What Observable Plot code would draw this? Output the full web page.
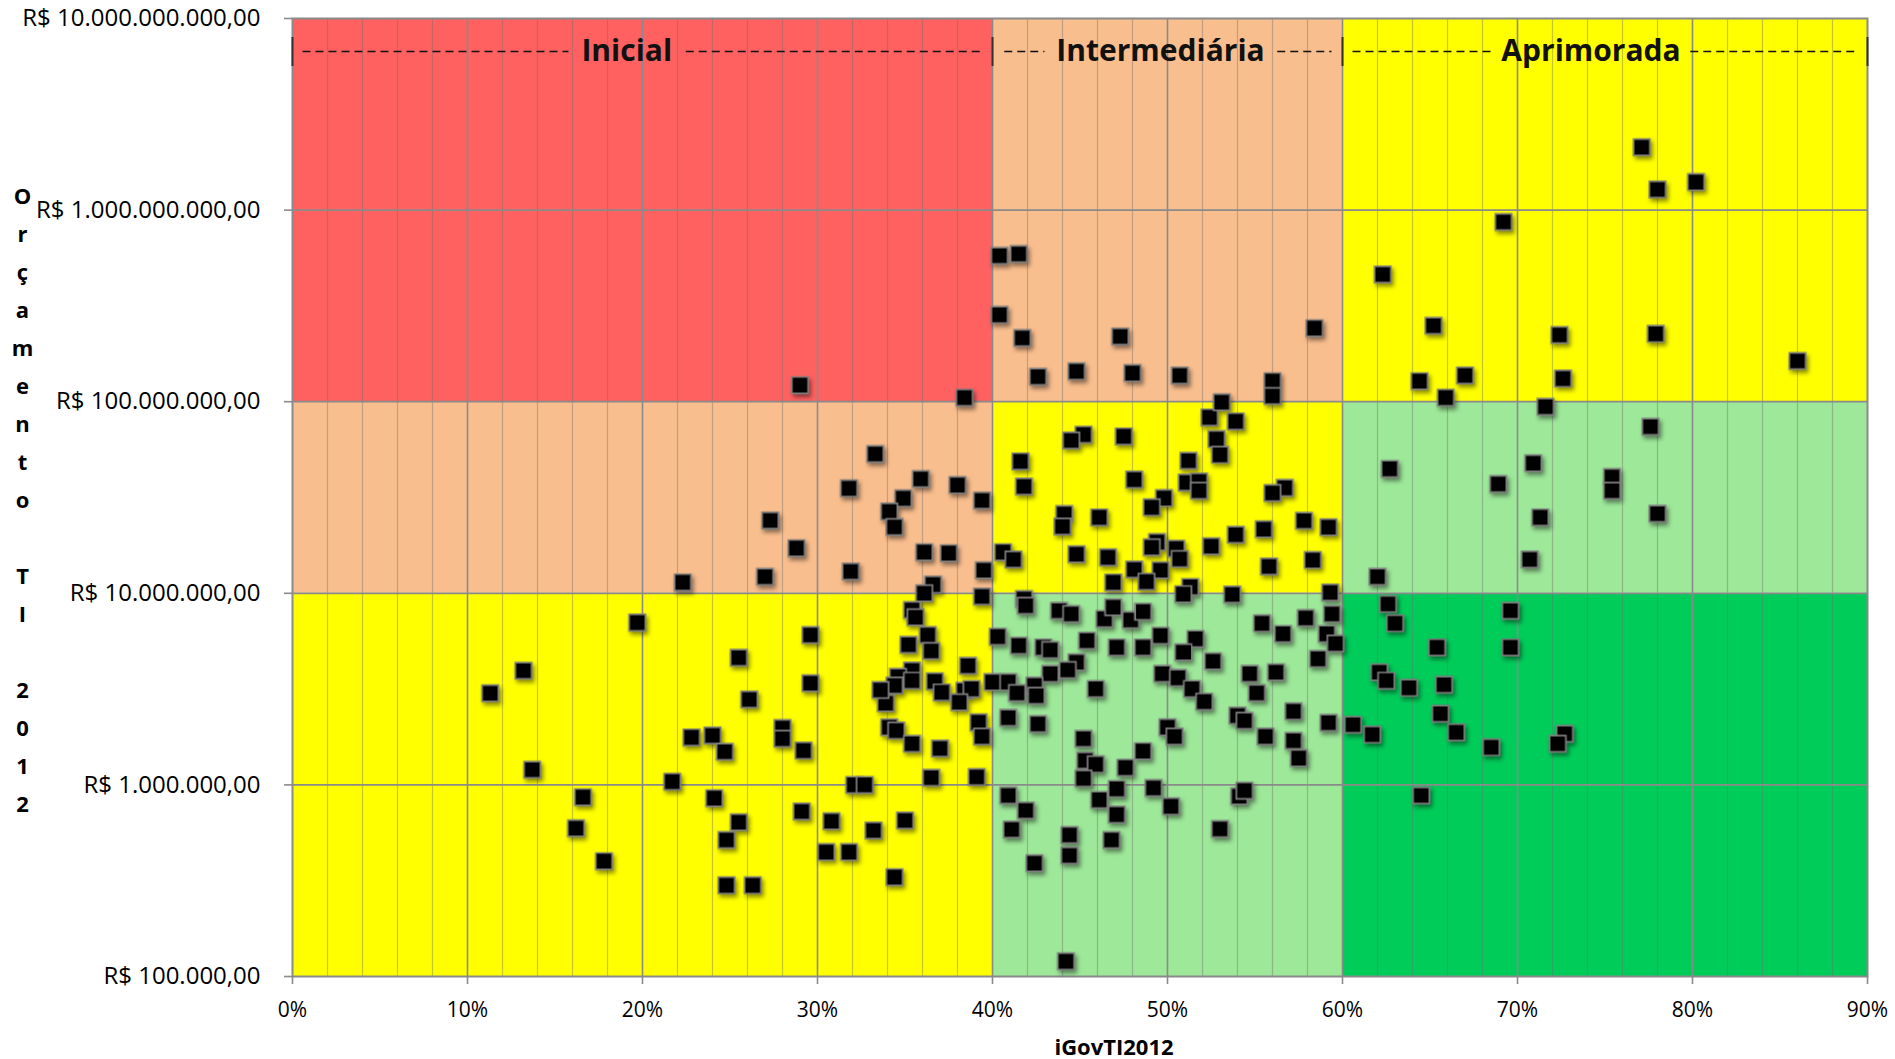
<!DOCTYPE html>
<html><head><meta charset="utf-8">
<script src="https://cdn.jsdelivr.net/npm/d3@7"></script>
<script src="https://cdn.jsdelivr.net/npm/@observablehq/plot@0.6"></script>
<style>
html,body{margin:0;padding:0;background:#fff;}
#chart svg{display:block;}
</style></head><body><div id="chart"></div>
<script>
// ---- DATA: [iGovTI2012 (%), Orçamento TI 2012 (R$)] ----
const faixaAcima100mi = [
 [77.1,2.13e9],[78.0,1.28e9],[80.2,1.40e9],[69.2,8.67e8],[62.3,4.61e8],[65.2,2.49e8],[72.4,2.23e8],
 [77.9,2.26e8],[86.0,1.63e8],[64.4,1.28e8],[67.0,1.37e8],[72.6,1.32e8],[65.9,1.05e8],[40.4,5.78e8],
 [41.5,5.90e8],[40.4,2.84e8],[41.7,2.15e8],[47.3,2.19e8],[58.4,2.42e8],[42.6,1.35e8],[44.8,1.44e8],
 [48.0,1.41e8],[50.7,1.37e8],[56.0,1.28e8],[56.0,1.07e8],[29.0,1.22e8],[38.4,1.05e8]
];
const faixa10a100mi = [
 [71.6,9.41e7],
 [33.3,5.33e7],[35.9,3.95e7],[38.0,3.67e7],[31.8,3.53e7],[34.9,3.13e7],[39.4,3.05e7],[34.1,2.67e7],
 [34.4,2.22e7],[27.3,2.40e7],[28.8,1.72e7],[36.1,1.64e7],[37.5,1.62e7],[31.9,1.30e7],[27.0,1.22e7],
 [22.3,1.14e7],[39.5,1.32e7],[36.6,1.11e7],[36.1,1.00e7],
 [52.4,8.28e7],[53.9,7.89e7],[52.8,6.38e7],[53.0,5.28e7],[51.2,4.92e7],[51.1,3.79e7],[51.8,3.83e7],
 [51.8,3.43e7],[56.7,3.55e7],[56.0,3.34e7],[45.2,6.73e7],[44.5,6.27e7],[47.5,6.59e7],[41.6,4.88e7],
 [41.8,3.61e7],[48.1,3.92e7],[49.8,3.14e7],[49.1,2.81e7],[44.1,2.59e7],[44.0,2.23e7],[46.1,2.49e7],
 [57.8,2.39e7],[59.2,2.21e7],[55.5,2.16e7],[53.9,2.02e7],[52.5,1.76e7],[49.4,1.85e7],[49.1,1.74e7],
 [50.5,1.71e7],[50.7,1.51e7],[44.8,1.60e7],[46.6,1.54e7],[40.6,1.64e7],[41.2,1.50e7],[48.1,1.33e7],
 [49.6,1.32e7],[48.8,1.15e7],[46.9,1.14e7],[55.8,1.38e7],[58.3,1.49e7],[51.3,1.08e7],[59.3,1.01e7],
 [53.1,9.93e7],
 [77.6,7.40e7],[62.7,4.46e7],[70.9,4.77e7],[68.9,3.72e7],[75.4,4.04e7],[75.4,3.43e7],[71.3,2.49e7],
 [78.0,2.60e7],[70.7,1.50e7],[62.0,1.22e7]
];
const faixa1a10mi = [
 [50.9,9.90e6],[53.7,9.85e6],[39.4,9.63e6],
 [35.4,8.18e6],[35.6,7.50e6],[36.3,6.06e6],[35.2,5.39e6],[36.5,5.00e6],[19.7,7.03e6],[29.6,6.06e6],
 [25.5,4.61e6],[13.2,3.94e6],[11.3,3.01e6],[29.6,3.39e6],[26.1,2.79e6],[38.6,4.19e6],[35.4,3.95e6],
 [34.6,3.67e6],[34.4,3.30e6],[33.9,2.67e6],[35.4,3.50e6],[36.7,3.47e6],[37.1,3.04e6],[38.4,3.10e6],
 [38.8,3.17e6],[38.1,2.70e6],[40.0,3.44e6],[33.6,3.13e6],[39.2,2.12e6],[39.4,1.79e6],[34.1,2.00e6],
 [34.5,1.92e6],[35.4,1.64e6],[37.0,1.55e6],[28.0,1.98e6],[28.0,1.74e6],[22.8,1.77e6],[24.0,1.81e6],
 [24.7,1.49e6],[29.2,1.51e6],[13.7,1.20e6],[21.7,1.04e6],[32.1,1.00e6],[32.7,1.00e6],[36.5,1.09e6],
 [39.1,1.10e6],
 [41.8,9.33e6],[41.9,8.61e6],[43.8,8.11e6],[44.5,7.80e6],[46.4,7.35e6],[46.9,8.45e6],[47.9,7.26e6],
 [48.6,8.02e6],[55.4,6.97e6],[56.6,6.14e6],[57.9,7.43e6],[59.4,7.80e6],[59.1,6.14e6],[59.6,5.47e6],
 [40.3,5.94e6],[41.5,5.33e6],[42.9,5.22e6],[43.3,5.06e6],[45.4,5.66e6],[47.1,5.22e6],[48.6,5.22e6],
 [49.6,6.01e6],[51.6,5.78e6],[50.9,4.92e6],[52.6,4.42e6],[54.7,3.80e6],[56.2,3.87e6],[58.6,4.55e6],
 [55.1,3.02e6],[57.2,2.42e6],[59.2,2.11e6],[54.0,2.30e6],[54.4,2.16e6],[55.6,1.79e6],[57.2,1.70e6],
 [57.5,1.38e6],[50.0,2.00e6],[50.4,1.79e6],[49.7,3.80e6],[50.6,3.62e6],[51.4,3.17e6],[52.1,2.72e6],
 [44.8,4.37e6],[44.3,3.98e6],[43.3,3.80e6],[40.9,3.44e6],[41.4,3.02e6],[42.4,3.30e6],[42.5,2.92e6],
 [45.9,3.17e6],[40.9,2.24e6],[42.6,2.08e6],[45.2,1.74e6],[48.6,1.50e6],[47.6,1.23e6],[45.3,1.34e6],
 [45.9,1.28e6],[45.2,1.08e6],
 [62.6,8.80e6],[63.0,6.97e6],[69.6,8.11e6],[69.6,5.22e6],[65.4,5.22e6],[62.1,3.87e6],[62.5,3.50e6],
 [63.8,3.21e6],[65.8,3.33e6],[60.6,2.06e6],[61.7,1.83e6],[65.6,2.35e6],[66.5,1.88e6],[68.5,1.57e6],
 [72.7,1.85e6],[72.3,1.64e6]
];
const faixaAbaixo1mi = [
 [16.6,8.63e5],[24.1,8.53e5],[16.2,5.94e5],[25.5,6.38e5],[24.8,5.16e5],[29.1,7.26e5],[30.8,6.46e5],
 [33.2,5.78e5],[35.0,6.52e5],[17.8,4.00e5],[30.5,4.46e5],[31.8,4.46e5],[34.4,3.30e5],[24.8,2.99e5],
 [26.3,2.99e5],
 [44.2,1.20e5],[47.1,9.53e5],[49.2,9.64e5],[46.1,8.35e5],[47.1,7.00e5],[50.2,7.73e5],[54.1,8.73e5],
 [54.4,9.33e5],[53.0,5.89e5],[40.9,8.80e5],[41.9,7.35e5],[41.1,5.85e5],[44.4,5.48e5],[44.4,4.28e5],
 [46.8,5.16e5],[42.4,3.90e5],
 [64.5,8.81e5]
];

const limitesIGov = [0, 40, 60, 90];                 // faixas de capacidade
const limitesOrcamento = [1e5, 1e7, 1e8, 1e10];      // faixas de orçamento
const coresZonas = [                                  // linhas de baixo para cima
  ["#FFFF00", "#9EE89A", "#00CC5A"],
  ["#F9BE8E", "#FFFF00", "#9EE89A"],
  ["#FF6161", "#F9BE8E", "#FFFF00"]
];
const nomesFaixas = ["Inicial", "Intermediária", "Aprimorada"];
const ticksOrcamento = [1e5, 1e6, 1e7, 1e8, 1e9, 1e10];
const ticksIGov = [0, 10, 20, 30, 40, 50, 60, 70, 80, 90];
const tituloX = "iGovTI2012";
const tituloY = "Orçamento TI 2012";

// ---- BUILD ----
const pontos = [...faixaAcima100mi, ...faixa10a100mi, ...faixa1a10mi, ...faixaAbaixo1mi];
const zonas = [];
for (let i = 0; i < 3; i++) for (let j = 0; j < 3; j++)
  zonas.push({x1: limitesIGov[j], x2: limitesIGov[j+1], y1: limitesOrcamento[i], y2: limitesOrcamento[i+1], cor: coresZonas[i][j]});

const W = 1895, H = 1059, mL = 292, mR = 28, mT = 18, mB = 83;
const yAtPx = px => Math.pow(10, 10 - 5 * (px - mT) / (H - mT - mB));

const locale = d3.formatLocale({decimal: ",", thousands: ".", grouping: [3], currency: ["R$ ", ""]});
const fmtBRL = locale.format("$,.2f");

const minor = d3.range(2, 90, 2).filter(v => v % 10 !== 0);
const major = d3.range(10, 90, 10);

// header (label layout within each band)
const cab = [
  {nome: nomesFaixas[0], cx: 19.1, segs: [[0.6, 15.8], [22.5, 39.4]]},
  {nome: nomesFaixas[1], cx: 49.6, segs: [[40.7, 43.0], [56.3, 59.4]]},
  {nome: nomesFaixas[2], cx: 74.2, segs: [[60.6, 68.6], [79.9, 89.5]]}
];
const segs = cab.flatMap(c => c.segs.map(s => ({x1: s[0], x2: s[1]})));
const yHead = yAtPx(51);

const yLines = [...tituloY].map(c => c === " " ? "\u00a0" : c).join("\n");

const plot = Plot.plot({
  width: W, height: H,
  marginLeft: mL, marginRight: mR, marginTop: mT, marginBottom: mB,
  style: {fontFamily: "'Open Sans', sans-serif", background: "#fff", overflow: "visible", color: "#000"},
  x: {domain: [0, 90], axis: null},
  y: {type: "log", domain: [1e5, 1e10], axis: null},
  color: {type: "identity"},
  marks: [
    Plot.rect(zonas, {x1: "x1", x2: "x2", y1: "y1", y2: "y2", fill: "cor"}),
    Plot.ruleX(minor, {stroke: "#6f6f6f", strokeOpacity: 0.4, strokeWidth: 1.2}),
    Plot.ruleX(major, {stroke: "#8a8a8a", strokeWidth: 1.6}),
    Plot.ruleY([1e6, 1e7, 1e8, 1e9], {stroke: "#8a8a8a", strokeWidth: 1.8}),
    Plot.frame({stroke: "#8a8a8a", strokeWidth: 2}),
    // header
    Plot.ruleY(segs, {x1: "x1", x2: "x2", y: () => yHead, stroke: "#111", strokeWidth: 1.6, strokeDasharray: "8,5"}),
    Plot.ruleX(limitesIGov, {y1: yAtPx(37), y2: yAtPx(66), stroke: "#333", strokeWidth: 2}),
    Plot.text(cab, {x: "cx", y: () => yHead, text: "nome", fontSize: 30, fontWeight: "bold", fill: "#111", lineAnchor: "middle"}),
    // points
    Plot.dot(pontos, {x: d => d[0], y: d => d[1], symbol: "square", r: 9.2, fill: "#000", stroke: "#7f7f7f", strokeWidth: 1.7}),
    // axes
    Plot.axisY({ticks: ticksOrcamento, tickFormat: fmtBRL, tickSize: 8, tickPadding: 24, fontSize: 24, stroke: "#8a8a8a", strokeWidth: 1.6, label: null}),
    Plot.axisX({ticks: ticksIGov, tickFormat: d => d + "%", tickSize: 8, tickPadding: 18, fontSize: 21, stroke: "#8a8a8a", strokeWidth: 1.6, label: null}),
    Plot.text([tituloX], {frameAnchor: "bottom", dx: 34, dy: 78, fontSize: 22, fontWeight: "bold"}),
    Plot.text([yLines], {frameAnchor: "left", dx: 22 - mL, dy: -2, fontSize: 22, fontWeight: "bold", lineHeight: 38 / 22, textAnchor: "middle", lineAnchor: "middle"})
  ]
});
const dotG = plot.querySelector('g[aria-label="dot"]');
if (dotG) dotG.style.filter = "drop-shadow(2px 3px 2px rgba(0,0,0,0.45))";
document.getElementById("chart").appendChild(plot);
</script>
</body></html>
